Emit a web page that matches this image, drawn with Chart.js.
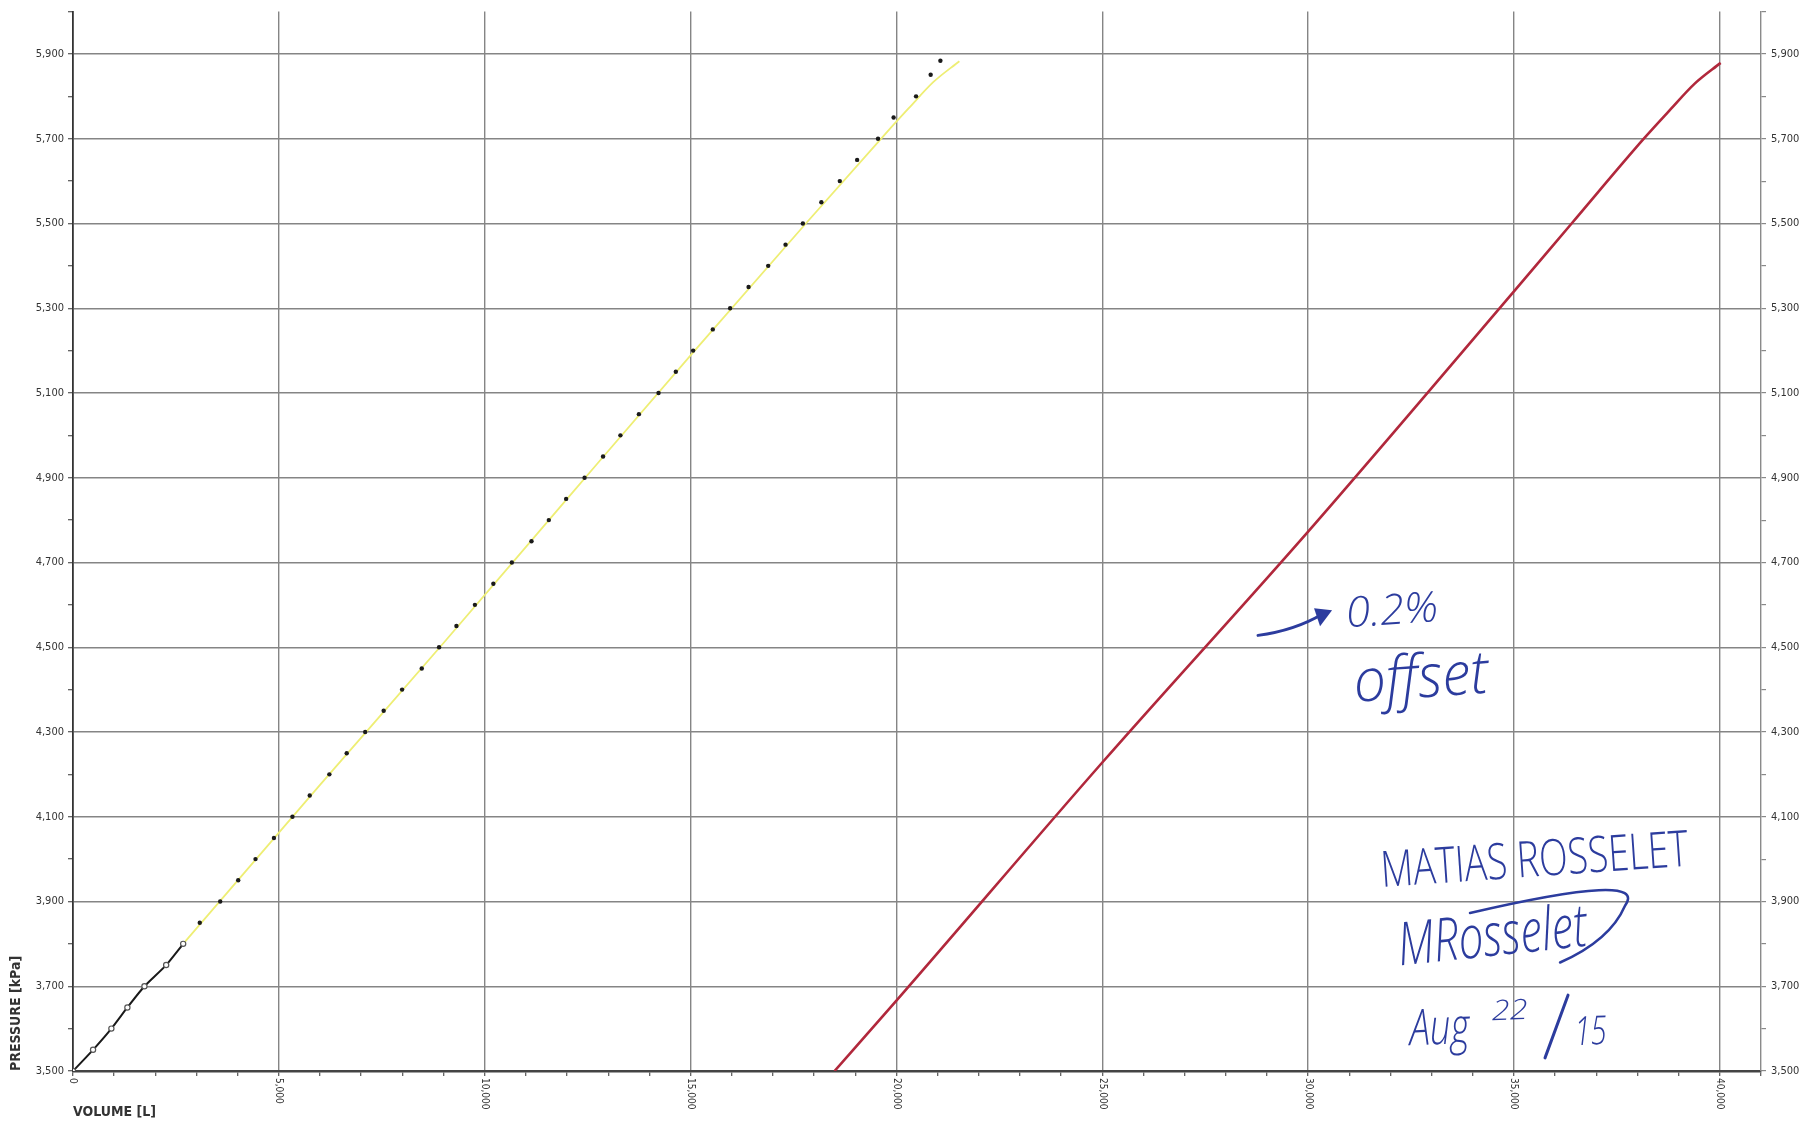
<!DOCTYPE html>
<html><head><meta charset="utf-8">
<script src="https://cdn.jsdelivr.net/npm/chart.js@4/dist/chart.umd.min.js"></script>
<style>html,body{margin:0;padding:0;background:#fff;overflow:hidden}#wrap{width:1809px;height:1123px;position:relative}</style>
</head><body><div id="wrap"><canvas id="c" width="1809" height="1123"></canvas></div>
<script>
// ---- data ----
const blackVolume   = [0, 487, 932, 1321, 1735, 2263, 2676];
const blackPressure = [3500, 3550, 3600, 3650, 3700, 3750, 3800];

const dotVolume   = [3079, 3575, 4013, 4433, 4881, 5330, 5750, 6227, 6648, 7097, 7546, 7994, 8471, 8892, 9313, 9762, 10210, 10659, 11136, 11557, 11978, 12426, 12875, 13296, 13745, 14222, 14642, 15063, 15540, 15961, 16409, 16886, 17307, 17728, 18177, 18625, 19046, 19553, 19932, 20477, 20832, 21068];
const dotPressure = [3850, 3900, 3950, 4000, 4050, 4100, 4150, 4200, 4250, 4300, 4350, 4400, 4450, 4500, 4550, 4600, 4650, 4700, 4750, 4800, 4850, 4900, 4950, 5000, 5050, 5100, 5150, 5200, 5250, 5300, 5350, 5400, 5450, 5500, 5550, 5600, 5650, 5700, 5750, 5800, 5851, 5884];

const fitVolume   = [2676, 6000, 9000, 12000, 15100, 17800, 19700, 20300, 20900, 21530];
const fitPressure = [3800, 4175, 4510, 4850, 5200, 5500, 5708, 5772, 5834, 5883];

const offsetVolume   = [18497, 20000, 25000, 30000, 35000, 36400, 38170, 38790, 39390, 40020];
const offsetPressure = [3500, 3666, 4228, 4773, 5340, 5500, 5702, 5768, 5830, 5879];

const xTickValues = [0, 5000, 10000, 15000, 20000, 25000, 30000, 35000, 40000];
const xTitle = 'VOLUME [L]';
const yTitle = 'PRESSURE [kPa]';
const noteOffset = ['0.2%', 'offset'];
const noteName = 'MATIAS ROSSELET';
const noteSign = 'MRosselet';
const noteDate = ['Aug', '22', '/', '15'];

// ---- helpers ----
const toXY = (xs, ys) => xs.map((v, i) => ({x: v, y: ys[i]}));
const GRID = '#858585';
const NARROW = "'Liberation Sans Narrow','DejaVu Sans Condensed','Open Sans',sans-serif";
const TICKFONT = {family: NARROW, size: 11};
const TITLEFONT = {family: NARROW, size: 14, weight: 'bold'};
const INK = '#2c3c9e';
const fmt = v => v.toLocaleString('en-US');

const xLabelPlugin = {
  id: 'xLabels',
  afterDraw(chart) {
    const sx = chart.scales.x, ctx = chart.ctx;
    ctx.save();
    ctx.fillStyle = '#333';
    ctx.font = "10px " + NARROW;
    ctx.textAlign = 'left'; ctx.textBaseline = 'middle';
    xTickValues.forEach(v => {
      const px = sx.getPixelForValue(v);
      ctx.save();
      ctx.translate(px, chart.chartArea.bottom + 7);
      ctx.rotate(Math.PI / 2);
      ctx.fillText(fmt(v), 0, 0);
      ctx.restore();
    });
    ctx.restore();
  }
};

function fitText(ctx, text, x, y, w, size, angle, style) {
  ctx.save();
  ctx.font = (style || 'italic') + ' ' + size + "px 'Open Sans','DejaVu Sans',sans-serif";
  const m = ctx.measureText(text).width;
  ctx.translate(x, y);
  ctx.rotate((angle || 0) * Math.PI / 180);
  ctx.scale(w / m, 1);
  ctx.fillText(text, 0, 0);
  ctx.restore();
}

const notesPlugin = {
  id: 'notes',
  afterDatasetsDraw(chart) {
    const sx = chart.scales.x, sy = chart.scales.y, ctx = chart.ctx;
    const P = (v, p) => [sx.getPixelForValue(v), sy.getPixelForValue(p)];
    ctx.save();
    ctx.fillStyle = INK; ctx.strokeStyle = INK;
    ctx.lineCap = 'round'; ctx.lineJoin = 'round';
    ctx.textBaseline = 'alphabetic';
    // arrow
    let a = P(28783, 4528), c = P(29682, 4540), e = P(30338, 4578);
    ctx.lineWidth = 3;
    ctx.beginPath(); ctx.moveTo(a[0], a[1]); ctx.quadraticCurveTo(c[0], c[1], e[0], e[1]); ctx.stroke();
    ctx.beginPath(); ctx.moveTo(e[0] + 10, e[1] - 4); ctx.lineTo(e[0] - 8, e[1] - 6); ctx.lineTo(e[0] - 2, e[1] + 12); ctx.closePath(); ctx.fill();
    // 0.2% offset
    let t = P(30945, 4547); fitText(ctx, noteOffset[0], t[0], t[1], 92, 42, -4, 'italic 300');
    t = P(31139, 4371); fitText(ctx, noteOffset[1], t[0], t[1], 135, 60, -4, 'italic 300');
    // name
    t = P(31795, 3934); fitText(ctx, noteName, t[0], t[1], 308, 50, -4, '300');
    // signature
    t = P(32232, 3749); fitText(ctx, noteSign, t[0], t[1], 190, 60, -6, 'italic 300');
    const s1 = P(33932, 3873), s2 = P(38305, 3972), s3 = P(37697, 3890), s4 = P(37333, 3808), s5 = P(36119, 3756);
    ctx.lineWidth = 2.5;
    ctx.beginPath(); ctx.moveTo(s1[0], s1[1]);
    ctx.quadraticCurveTo(s2[0], s2[1], s3[0], s3[1]);
    ctx.quadraticCurveTo(s4[0], s4[1], s5[0], s5[1]); ctx.stroke();
    // date
    t = P(32475, 3561); fitText(ctx, noteDate[0], t[0], t[1], 60, 50, -2, 'italic 300');
    t = P(34467, 3620); fitText(ctx, noteDate[1], t[0], t[1], 36, 28, -2, 'italic 300');
    const d1 = P(36313, 3679), d2 = P(35754, 3531);
    ctx.lineWidth = 3;
    ctx.beginPath(); ctx.moveTo(d1[0], d1[1]); ctx.lineTo(d2[0], d2[1]); ctx.stroke();
    t = P(36483, 3561); fitText(ctx, noteDate[3], t[0], t[1], 32, 40, -2, 'italic 300');
    ctx.restore();
  }
};

const yGridColor = c => (c.tick && (c.tick.value - 3500) % 200 === 0 && c.tick.value !== 3500) ? GRID : 'rgba(0,0,0,0)';

new Chart(document.getElementById('c'), {
  type: 'scatter',
  data: {
    datasets: [
      {label: 'dots', data: toXY(dotVolume, dotPressure), showLine: false, pointRadius: 2.2, pointBackgroundColor: '#1a1a1a', pointBorderColor: '#1a1a1a', pointBorderWidth: 0, order: 0},
      {label: 'initial', data: toXY(blackVolume, blackPressure), showLine: true, borderColor: '#1a1a1a', borderWidth: 2, tension: 0.2, pointRadius: 2.6, pointBackgroundColor: '#fff', pointBorderColor: '#555', pointBorderWidth: 1.2, order: 1},
      {label: 'fit', data: toXY(fitVolume, fitPressure), showLine: true, borderColor: '#eeee74', borderWidth: 1.8, cubicInterpolationMode: 'monotone', pointRadius: 0, order: 2},
      {label: 'offset', data: toXY(offsetVolume, offsetPressure), showLine: true, borderColor: '#b1283c', borderWidth: 2.6, cubicInterpolationMode: 'monotone', pointRadius: 0, order: 3}
    ]
  },
  options: {
    responsive: false, animation: false, devicePixelRatio: 1,
    layout: {padding: {top: 7, left: 0, right: 0, bottom: 0}},
    plugins: {legend: {display: false}, tooltip: {enabled: false}},
    scales: {
      x: {
        type: 'linear', position: 'bottom', min: 0, max: 41000,
        ticks: {stepSize: 1000, display: false, autoSkip: false},
        grid: {color: c => (c.tick && c.tick.value % 5000 === 0 && c.tick.value !== 0) ? GRID : 'rgba(0,0,0,0)', lineWidth: 1.4, tickLength: 5, tickColor: '#555', tickWidth: 1.2},
        border: {display: true, color: '#444', width: 2.5},
        title: {display: true, text: xTitle, align: 'start', color: '#333', font: TITLEFONT, padding: {top: 0, bottom: 2}},
        afterFit: s => { s.height = 52; }
      },
      y: {
        type: 'linear', position: 'left', min: 3500, max: 6000,
        ticks: {stepSize: 100, autoSkip: false, color: '#333', font: TICKFONT, padding: 4,
          callback: v => ((v - 3500) % 200 === 0 ? fmt(v) : '')},
        grid: {color: yGridColor, lineWidth: 1.4, tickLength: 5, tickColor: '#555', tickWidth: 1.2},
        border: {display: true, color: '#333', width: 1.8},
        title: {display: true, text: yTitle, align: 'start', color: '#333', font: TITLEFONT, padding: {top: 8, bottom: 0}},
        afterFit: s => { s.width = 73; }
      },
      y2: {
        type: 'linear', position: 'right', min: 3500, max: 6000,
        ticks: {stepSize: 100, autoSkip: false, color: '#333', font: TICKFONT, padding: 5,
          callback: v => ((v - 3500) % 200 === 0 ? fmt(v) : '')},
        grid: {drawOnChartArea: false, lineWidth: 1.2, tickLength: 5, tickColor: '#888'},
        border: {display: true, color: '#8a8a8a', width: 1.4},
        afterFit: s => { s.width = 48; }
      }
    }
  },
  plugins: [xLabelPlugin, notesPlugin]
});
</script></body></html>
